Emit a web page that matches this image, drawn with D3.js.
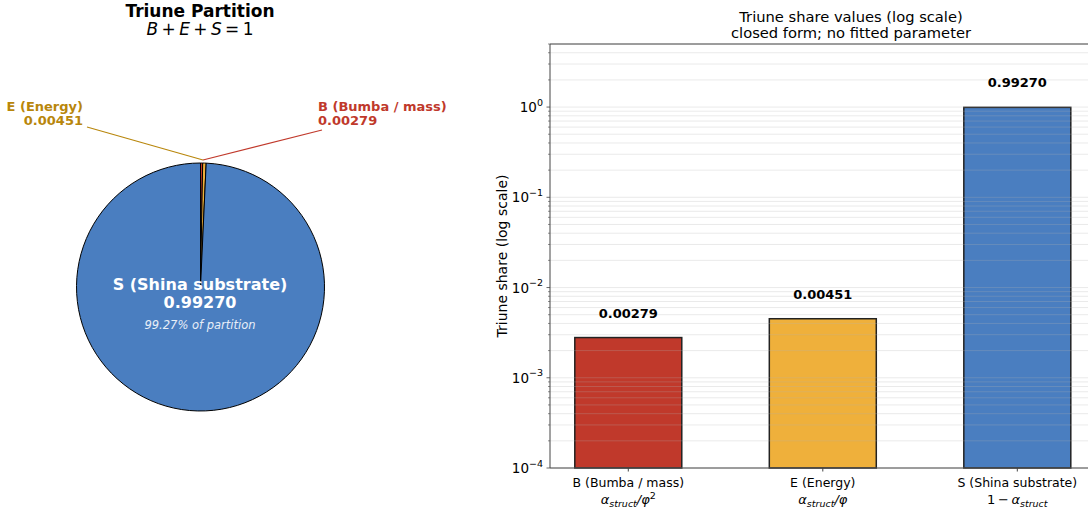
<!DOCTYPE html>
<html><head><meta charset="utf-8">
<script src="https://cdn.jsdelivr.net/npm/d3@7"></script>
<style>body{margin:0;background:#fff}svg{display:block;font-family:"DejaVu Sans",sans-serif}</style>
</head><body><svg id="c" width="1088" height="512"></svg>
<script>
const categories = ["B (Bumba / mass)", "E (Energy)", "S (Shina substrate)"];
const shortKeys = ["B", "E", "S"];
const values = [0.00279, 0.00451, 0.99270];
const colors = ["#c0392b", "#efb03b", "#4a7ec0"];
const labelColors = ["#c0392b", "#b8860b", "#ffffff"];
const yTickExps = [-4, -3, -2, -1, 0];

(function () {
const svg = d3.select("#c");

// ---------- PIE ----------
const cx = 200.5, cy = 287, R = 124;
const pieG = svg.append("g").attr("transform", `translate(${cx},${cy})`);
const pie = d3.pie().sort(null).value(d => d)(values);
const arc = d3.arc().innerRadius(0).outerRadius(R);
pieG.selectAll("path").data(pie).enter().append("path")
  .attr("d", arc).attr("fill", (d, i) => colors[i])
  .attr("stroke", "#000").attr("stroke-width", 1).attr("stroke-linejoin", "round");

svg.append("text").attr("x", 200).attr("y", 17).attr("text-anchor", "middle")
  .attr("font-size", 17).attr("font-weight", "bold").text("Triune Partition");
const eq = svg.append("text").attr("x", 200).attr("y", 35).attr("text-anchor", "middle").attr("font-size", 17);
[["B", 1], ["\u2009+\u2009", 0], ["E", 1], ["\u2009+\u2009", 0], ["S", 1], ["\u2009=\u20091", 0]].forEach(([t, it]) =>
  eq.append("tspan").attr("font-style", it ? "italic" : "normal").text(t));

// leader lines
const tip = [cx + 2.5, cy - R - 3];
const leaders = [
  {i: 0, x: 318, y: 111, anchor: "start", lx: 322, ly: 130},
  {i: 1, x: 83, y: 111, anchor: "end", lx: 87, ly: 127}
];
leaders.forEach(L => {
  svg.append("line").attr("x1", L.lx).attr("y1", L.ly).attr("x2", tip[0]).attr("y2", tip[1])
    .attr("stroke", labelColors[L.i]).attr("stroke-width", 1.1);
  const t = svg.append("text").attr("x", L.x).attr("y", L.y).attr("text-anchor", L.anchor)
    .attr("font-size", 13).attr("font-weight", "bold").attr("fill", labelColors[L.i]);
  t.append("tspan").attr("x", L.x).text(categories[L.i]);
  t.append("tspan").attr("x", L.x).attr("dy", 14).text(values[L.i].toFixed(5));
});

const sT = svg.append("text").attr("text-anchor", "middle").attr("fill", "#fff").attr("font-weight", "bold").attr("font-size", 16);
sT.append("tspan").attr("x", 200).attr("y", 290).text(categories[2]);
sT.append("tspan").attr("x", 200).attr("y", 308).text(values[2].toFixed(5));
svg.append("text").attr("x", 200).attr("y", 329).attr("text-anchor", "middle").attr("fill", "#e8eef8")
  .attr("font-style", "italic").attr("font-size", 11.5).text((values[2] * 100).toFixed(2) + "% of partition");

// ---------- BAR (log) ----------
const pL = 550, pT = 44, pB = 468, pR = 1095.6;
const barW = 0.55;
const y = d3.scaleLog().domain([1e-4, 5.0]).range([pB, pT]);
const x = d3.scaleLinear().domain([-0.4025, 2.4025]).range([pL, pR]);
const g = svg.append("g");

g.selectAll("rect.bar").data(values).enter().append("rect").attr("class", "bar")
  .attr("x", (d, i) => x(i - barW / 2)).attr("width", x(barW) - x(0))
  .attr("y", d => y(d)).attr("height", d => pB - y(d))
  .attr("fill", (d, i) => colors[i]).attr("stroke", "#222").attr("stroke-width", 1.5);

const gridVals = [];
for (let e = -4; e <= 0; e++) for (let m = 1; m <= 9; m++) { const v = m * Math.pow(10, e); if (v <= 5) gridVals.push(v); }
g.selectAll("line.grid").data(gridVals).enter().append("line")
  .attr("x1", pL).attr("x2", 1088).attr("y1", d => y(d)).attr("y2", d => y(d))
  .attr("stroke", "#b0b0b0").attr("stroke-opacity", 0.3).attr("stroke-width", 0.9);

g.selectAll("text.val").data(values).enter().append("text")
  .attr("x", (d, i) => x(i)).attr("y", d => y(d) - 20)
  .attr("text-anchor", "middle").attr("font-size", 13).attr("font-weight", "bold").text(d => d.toFixed(5));

svg.append("line").attr("x1", pL).attr("x2", 1088).attr("y1", pT).attr("y2", pT).attr("stroke", "#444").attr("stroke-width", 1);
svg.append("line").attr("x1", pL).attr("x2", 1088).attr("y1", pB).attr("y2", pB).attr("stroke", "#444").attr("stroke-width", 1);
svg.append("line").attr("x1", pL).attr("x2", pL).attr("y1", pT).attr("y2", pB).attr("stroke", "#444").attr("stroke-width", 1);

const minor = gridVals.filter(v => !yTickExps.some(e => Math.abs(v - Math.pow(10, e)) < 1e-12));
svg.selectAll("line.mn").data(minor).enter().append("line").attr("x1", pL - 2).attr("x2", pL)
  .attr("y1", d => y(d)).attr("y2", d => y(d)).attr("stroke", "#444").attr("stroke-width", 0.6);
svg.selectAll("line.mj").data(yTickExps).enter().append("line").attr("x1", pL - 3.5).attr("x2", pL)
  .attr("y1", d => y(Math.pow(10, d))).attr("y2", d => y(Math.pow(10, d))).attr("stroke", "#444").attr("stroke-width", 0.8);
yTickExps.forEach(e => {
  const t = svg.append("text").attr("x", pL - 7).attr("y", y(Math.pow(10, e)) + 5).attr("text-anchor", "end").attr("font-size", 13.5);
  t.append("tspan").text("10");
  t.append("tspan").attr("dy", -6.5).attr("font-size", 9.5).text(e === 0 ? "0" : "\u2212" + (-e));
});
svg.append("text").attr("transform", `translate(507,${(pT + pB) / 2}) rotate(-90)`).attr("text-anchor", "middle")
  .attr("font-size", 14).text("Triune share (log scale)");

const formulas = [
  [["\u03b1", "i", 0], ["struct", "i", 1], ["/\u03c6", "i", 0], ["2", "n", 2]],
  [["\u03b1", "i", 0], ["struct", "i", 1], ["/\u03c6", "i", 0]],
  [["1\u2009\u2212\u2009", "n", 0], ["\u03b1", "i", 0], ["struct", "i", 1]]
];
shortKeys.forEach((k, i) => {
  const xc = x(i);
  svg.append("line").attr("x1", xc).attr("x2", xc).attr("y1", pB).attr("y2", pB + 3.5).attr("stroke", "#444");
  svg.append("text").attr("x", xc).attr("y", pB + 19).attr("text-anchor", "middle").attr("font-size", 12.5).text(categories[i]);
  const f = svg.append("text").attr("x", xc).attr("y", pB + 36).attr("text-anchor", "middle").attr("font-size", 13);
  let prev = 0;
  formulas[i].forEach(([t, st, sub]) => {
    const ts = f.append("tspan").attr("font-style", st === "i" ? "italic" : "normal").text(t);
    const target = sub === 1 ? 3 : sub === 2 ? -5 : 0;
    ts.attr("dy", target - prev); prev = target;
    if (sub) ts.attr("font-size", 9.5);
  });
});

svg.append("text").attr("x", 851).attr("y", 22).attr("text-anchor", "middle").attr("font-size", 14.7).text("Triune share values (log scale)");
svg.append("text").attr("x", 851).attr("y", 38).attr("text-anchor", "middle").attr("font-size", 14.7).text("closed form; no fitted parameter");
})();
</script></body></html>
